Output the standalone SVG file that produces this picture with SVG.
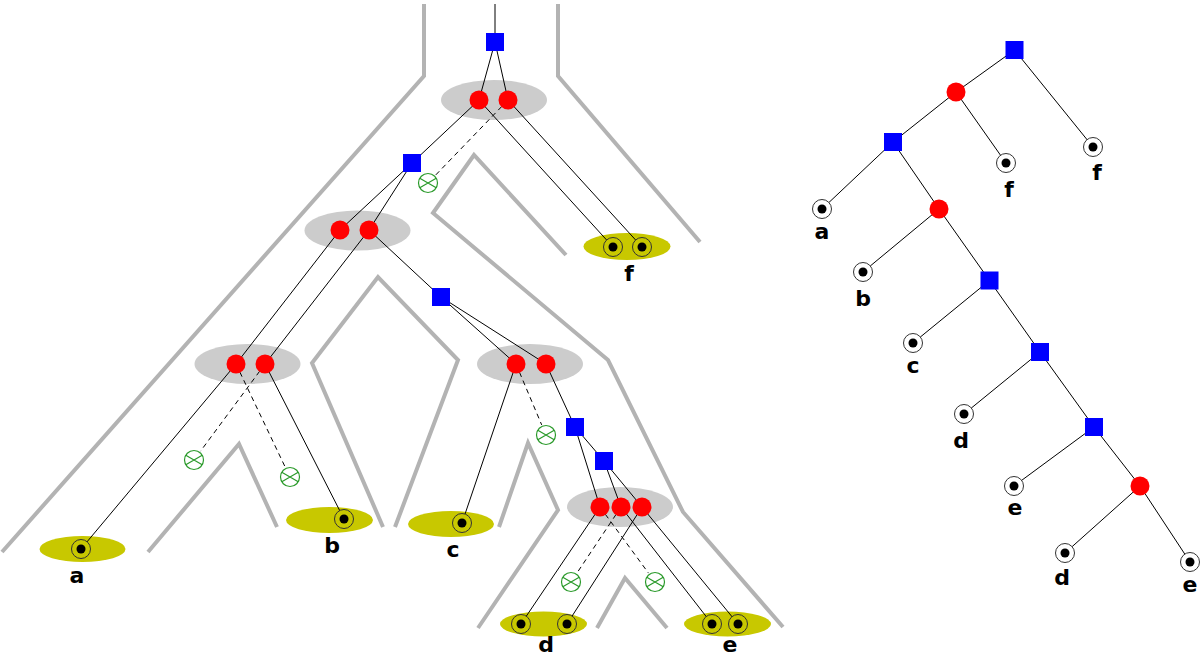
<svg xmlns="http://www.w3.org/2000/svg" width="1200" height="658" viewBox="0 0 1200 658">
<style>
.wall{fill:none;stroke:#b3b3b3;stroke-width:4;stroke-linejoin:miter}
.edge{stroke:#000;stroke-width:1;fill:none}
.dash{stroke:#000;stroke-width:1;fill:none;stroke-dasharray:5 4}
.sq{fill:#0000ff}
.rd{fill:#ff0000}
.grp{fill:#cccccc}
.yel{fill:#c8c800}
.ringY{fill:#c8c800;stroke:#333;stroke-width:1}
.ringW{fill:#fff;stroke:#333;stroke-width:1}
.dot{fill:#000}
.xm{fill:#fff;stroke:#2a9a2a;stroke-width:1.2}
.lbl{font-family:"DejaVu Sans",sans-serif;font-weight:bold;font-size:22px;text-anchor:middle;fill:#000}
</style>
<defs>
<g id="leafY"><circle class="ringY" r="9.5"/><circle class="dot" r="4.5"/></g>
<g id="leafW"><circle class="ringW" r="9.5"/><circle class="dot" r="4.5"/></g>
<g id="xmark"><circle class="xm" r="9.5"/><path class="xm" fill="none" d="M-8.2,-4.8 L8.2,4.8 M-8.2,4.8 L8.2,-4.8"/></g>
<rect id="sqr" class="sq" x="-9" y="-9" width="18" height="18"/>
</defs>
<rect width="1200" height="658" fill="#fff"/>

<g id="walls">
<polyline class="wall" points="424,4 424,76 2,552"/>
<polyline class="wall" points="558,4 558,76 700,242"/>
<polyline class="wall" points="566,255 474,155 433,213 608,360 683,512 783,627"/>
<polyline class="wall" points="148,552 239,444 277,527"/>
<polyline class="wall" points="383,527 312,363 378,277 458,360 395,527"/>
<polyline class="wall" points="499,527 528,443 558,510 478,628"/>
<polyline class="wall" points="597,628 625,578 667,628"/>
</g>

<g id="groups">
<ellipse class="grp" cx="494" cy="100" rx="53" ry="20"/>
<ellipse class="grp" cx="357.5" cy="230.5" rx="53" ry="20"/>
<ellipse class="grp" cx="247.5" cy="364" rx="53" ry="20"/>
<ellipse class="grp" cx="530" cy="364" rx="53" ry="20"/>
<ellipse class="grp" cx="620" cy="507" rx="53" ry="20"/>
<ellipse class="yel" cx="82.5" cy="549" rx="43" ry="13"/>
<ellipse class="yel" cx="329.5" cy="520" rx="43.5" ry="13"/>
<ellipse class="yel" cx="451" cy="524" rx="43" ry="13"/>
<ellipse class="yel" cx="627" cy="246.5" rx="43.5" ry="13.5"/>
<ellipse class="yel" cx="543.5" cy="624" rx="43.5" ry="12.5"/>
<ellipse class="yel" cx="727.5" cy="624" rx="43.5" ry="12.5"/>
</g>

<g id="connectors">
<line class="edge" x1="495" y1="4" x2="495" y2="42"/>
<line class="edge" x1="495" y1="42" x2="479" y2="100"/>
<line class="edge" x1="495" y1="42" x2="508" y2="100"/>
<line class="edge" x1="479" y1="100" x2="412" y2="163"/>
<line class="edge" x1="479" y1="100" x2="613" y2="247"/>
<line class="edge" x1="508" y1="100" x2="642" y2="247"/>
<line class="dash" x1="508" y1="100" x2="435.6" y2="175.1"/>
<line class="edge" x1="412" y1="163" x2="340" y2="230"/>
<line class="edge" x1="412" y1="163" x2="369" y2="230"/>
<line class="edge" x1="340" y1="230" x2="236" y2="364"/>
<line class="edge" x1="369" y1="230" x2="265" y2="364"/>
<line class="edge" x1="369" y1="230" x2="441" y2="297"/>
<line class="edge" x1="236" y1="364" x2="81" y2="549"/>
<line class="edge" x1="265" y1="364" x2="344" y2="519"/>
<line class="dash" x1="236" y1="364" x2="285.2" y2="467.1"/>
<line class="dash" x1="265" y1="364" x2="200.5" y2="451.2"/>
<line class="edge" x1="441" y1="297" x2="516" y2="364"/>
<line class="edge" x1="441" y1="297" x2="546" y2="364"/>
<line class="edge" x1="516" y1="364" x2="462" y2="523"/>
<line class="dash" x1="516" y1="364" x2="541.7" y2="424.9"/>
<line class="edge" x1="546" y1="364" x2="575" y2="427"/>
<line class="edge" x1="575" y1="427" x2="604" y2="461"/>
<line class="edge" x1="575" y1="427" x2="600" y2="507"/>
<line class="edge" x1="604" y1="461" x2="621" y2="507"/>
<line class="edge" x1="604" y1="461" x2="642" y2="507"/>
<line class="edge" x1="600" y1="507" x2="521" y2="624"/>
<line class="dash" x1="600" y1="507" x2="648.5" y2="573.1"/>
<line class="edge" x1="621" y1="507" x2="712" y2="624"/>
<line class="dash" x1="621" y1="507" x2="577.1" y2="572.8"/>
<line class="edge" x1="642" y1="507" x2="567" y2="624"/>
<line class="edge" x1="642" y1="507" x2="738" y2="624"/>

<line class="edge" x1="1014.5" y1="50" x2="956" y2="92"/>
<line class="edge" x1="1014.5" y1="50" x2="1093" y2="147"/>
<line class="edge" x1="956" y1="92" x2="893" y2="142"/>
<line class="edge" x1="956" y1="92" x2="1006" y2="163"/>
<line class="edge" x1="893" y1="142" x2="822" y2="209"/>
<line class="edge" x1="893" y1="142" x2="939" y2="209"/>
<line class="edge" x1="939" y1="209" x2="863" y2="272"/>
<line class="edge" x1="939" y1="209" x2="989.5" y2="280.5"/>
<line class="edge" x1="989.5" y1="280.5" x2="913" y2="343"/>
<line class="edge" x1="989.5" y1="280.5" x2="1040" y2="352"/>
<line class="edge" x1="1040" y1="352" x2="964" y2="414"/>
<line class="edge" x1="1040" y1="352" x2="1094" y2="427"/>
<line class="edge" x1="1094" y1="427" x2="1014" y2="486"/>
<line class="edge" x1="1094" y1="427" x2="1140" y2="486"/>
<line class="edge" x1="1140" y1="486" x2="1065" y2="553"/>
<line class="edge" x1="1140" y1="486" x2="1190" y2="562"/>
</g>

<g id="L-s1"><use href="#sqr" x="495" y="42"/></g>
<g id="L-s2"><use href="#sqr" x="412" y="163"/></g>
<g id="L-s3"><use href="#sqr" x="441" y="297"/></g>
<g id="L-s4"><use href="#sqr" x="575" y="427"/></g>
<g id="L-s5"><use href="#sqr" x="604" y="461"/></g>

<g id="L-r1"><circle class="rd" cx="479" cy="100" r="9.5"/><circle class="rd" cx="508" cy="100" r="9.5"/></g>
<g id="L-r2"><circle class="rd" cx="340" cy="230" r="9.5"/><circle class="rd" cx="369" cy="230" r="9.5"/></g>
<g id="L-r3"><circle class="rd" cx="236" cy="364" r="9.5"/><circle class="rd" cx="265" cy="364" r="9.5"/></g>
<g id="L-r4"><circle class="rd" cx="516" cy="364" r="9.5"/><circle class="rd" cx="546" cy="364" r="9.5"/></g>
<g id="L-r5"><circle class="rd" cx="600" cy="507" r="9.5"/><circle class="rd" cx="621" cy="507" r="9.5"/><circle class="rd" cx="642" cy="507" r="9.5"/></g>

<g id="L-x">
<use href="#xmark" x="428" y="183"/>
<use href="#xmark" x="194" y="460"/>
<use href="#xmark" x="290" y="477"/>
<use href="#xmark" x="546" y="435"/>
<use href="#xmark" x="571" y="582"/>
<use href="#xmark" x="655" y="582"/>
</g>

<g id="L-a"><use href="#leafY" x="81" y="549"/><text class="lbl" x="77" y="583">a</text></g>
<g id="L-b"><use href="#leafY" x="344" y="519"/><text class="lbl" x="332" y="553">b</text></g>
<g id="L-c"><use href="#leafY" x="462" y="523"/><text class="lbl" x="453" y="557">c</text></g>
<g id="L-f"><use href="#leafY" x="613" y="247"/><use href="#leafY" x="642" y="247"/><text class="lbl" x="629" y="281">f</text></g>
<g id="L-d"><use href="#leafY" x="521" y="624"/><use href="#leafY" x="567" y="624"/><text class="lbl" x="546" y="652">d</text></g>
<g id="L-e"><use href="#leafY" x="712" y="624"/><use href="#leafY" x="738" y="624"/><text class="lbl" x="730" y="652">e</text></g>

<g id="R-s1"><use href="#sqr" x="1014.5" y="50"/></g>
<g id="R-s2"><use href="#sqr" x="893" y="142"/></g>
<g id="R-s3"><use href="#sqr" x="989.5" y="280.5"/></g>
<g id="R-s4"><use href="#sqr" x="1040" y="352"/></g>
<g id="R-s5"><use href="#sqr" x="1094" y="427"/></g>
<g id="R-r1"><circle class="rd" cx="956" cy="92" r="9.5"/></g>
<g id="R-r2"><circle class="rd" cx="939" cy="209" r="9.5"/></g>
<g id="R-r3"><circle class="rd" cx="1140" cy="486" r="9.5"/></g>

<g id="R-f1"><use href="#leafW" x="1093" y="147"/><text class="lbl" x="1097" y="180">f</text></g>
<g id="R-f2"><use href="#leafW" x="1006" y="163"/><text class="lbl" x="1009" y="197">f</text></g>
<g id="R-a"><use href="#leafW" x="822" y="209"/><text class="lbl" x="822" y="239">a</text></g>
<g id="R-b"><use href="#leafW" x="863" y="272"/><text class="lbl" x="863" y="306">b</text></g>
<g id="R-c"><use href="#leafW" x="913" y="343"/><text class="lbl" x="913" y="373">c</text></g>
<g id="R-d1"><use href="#leafW" x="964" y="414"/><text class="lbl" x="961" y="448">d</text></g>
<g id="R-e1"><use href="#leafW" x="1014" y="486"/><text class="lbl" x="1015" y="515">e</text></g>
<g id="R-d2"><use href="#leafW" x="1065" y="553"/><text class="lbl" x="1062" y="585">d</text></g>
<g id="R-e2"><use href="#leafW" x="1190" y="562"/><text class="lbl" x="1190" y="592">e</text></g>
</svg>
